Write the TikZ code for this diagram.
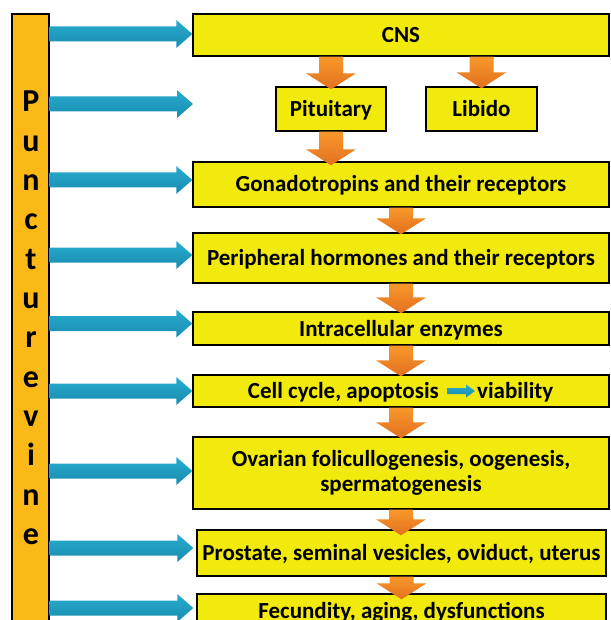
\documentclass[tikz,border=0pt]{standalone}
\usepackage{fontspec}
\setmainfont{Carlito}
\usetikzlibrary{calc}
\definecolor{boxyellow}{RGB}{242,234,12}
\definecolor{barorange}{RGB}{250,185,22}
\definecolor{bluetop}{RGB}{40,172,206}
\definecolor{bluebot}{RGB}{24,140,176}
\definecolor{orangetop}{RGB}{248,152,42}
\definecolor{orangebot}{RGB}{226,112,32}
\begin{document}
\begin{tikzpicture}[x=1pt,y=-1pt,
  box/.style={draw=black, line width=1.4pt, fill=boxyellow, inner sep=0pt, align=center,
    font=\fontsize{23}{25}\selectfont\bfseries},
  capline/.style={text height=15pt, text depth=0pt},
  plain/.style={inner sep=0pt, font=\fontsize{23}{25}\selectfont\bfseries, text height=15pt, text depth=0pt},
  bar/.style={draw=black, line width=1.4pt, fill=barorange, minimum width=37pt, minimum height=626pt, inner sep=0pt},
  barletter/.style={inner sep=0pt, font=\fontsize{32}{34}\selectfont\bfseries},
  bluearrow/.style={top color=bluetop, bottom color=bluebot, draw=none,
    to path={let \p1=(\tikztostart), \p2=(\tikztotarget) in
      (\x1,\y1+#1+7.5pt) -- (\x2-16pt,\y1+#1+7.5pt) -- (\x2-16pt,\y1+#1+14pt) -- (\x2,\y1+#1)
      -- (\x2-16pt,\y1+#1-14pt) -- (\x2-16pt,\y1+#1-7.5pt) -- (\x1,\y1+#1-7.5pt) -- cycle}},
  bluearrow/.default=0pt,
  smallarrow/.style={top color=bluetop, bottom color=bluebot, draw=none,
    to path={let \p1=(\tikztostart), \p2=(\tikztotarget) in
      (\x1,\y1+3pt) -- (\x2-9pt,\y1+3pt) -- (\x2-9pt,\y1+6.5pt) -- (\x2,\y1)
      -- (\x2-9pt,\y1-6.5pt) -- (\x2-9pt,\y1-3pt) -- (\x1,\y1-3pt) -- cycle}},
  orangearrow/.style={top color=orangetop, bottom color=orangebot, draw=none,
    to path={let \p1=(\tikztostart), \p2=(\tikztotarget) in
      (\x1-12pt,\y1) -- (\x1+12pt,\y1) -- (\x1+12pt,\y2+16pt) -- (\x1+25pt,\y2+16pt) -- (\x1,\y2)
      -- (\x1-25pt,\y2+16pt) -- (\x1-12pt,\y2+16pt) -- cycle}}
]
\useasboundingbox (0,0) rectangle (610,620);
\fill[white] (0,0) rectangle (610,620);

% left bar
\node[bar] (bar) at (30.5,327) {};
\foreach \l [count=\i from 0] in {P,u,n,c,t,u,r,e,v,i,n,e}
  \node[barletter, anchor=base] (L\i) at (31,112+39.3*\i) {\l};

% boxes
\node[box, capline, minimum width=416pt, minimum height=42pt] (cns) at (401,35) {CNS};
\node[box, capline, minimum width=110pt, minimum height=44pt] (pit) at (331,109) {Pituitary};
\node[box, capline, minimum width=111pt, minimum height=44pt] (lib) at (481.5,109) {Libido};
\node[box, capline, minimum width=416pt, minimum height=45pt] (gon) at (401,184.5) {Gonadotropins and their receptors};
\node[box, capline, minimum width=416pt, minimum height=50pt] (per) at (401,258) {Peripheral hormones and their receptors};
\node[box, capline, minimum width=416pt, minimum height=33pt] (intra) at (401,328.5) {Intracellular enzymes};
\node[box, minimum width=416pt, minimum height=32pt] (cell) at (401,391) {};
\node[plain, anchor=east] (cellA) at (439,391) {Cell cycle, apoptosis};
\node[plain, anchor=west] (cellB) at (477,391) {viability};
\node[box, minimum width=416pt, minimum height=72pt] (ova) at (401,473) {Ovarian folicullogenesis, oogenesis,\\spermatogenesis};
\node[box, capline, minimum width=409pt, minimum height=46pt] (pro) at (401.5,553) {Prostate, seminal vesicles, oviduct, uterus};
\node[box, capline, minimum width=409pt, minimum height=34pt] (fec) at (401.5,611) {Fecundity, aging, dysfunctions};

% small arrow inside cell box
\shade[smallarrow] ([xshift=8pt]cellA.east) to ([xshift=-2pt]cellB.west);

% blue arrows from bar
\coordinate (pend) at (193,104);
\shade[bluearrow=1pt] (bar.east |- cns.west) to (cns.west);
\shade[bluearrow] (bar.east |- pend) to (pend);
\shade[bluearrow=4.5pt] (bar.east |- gon.west) to (gon.west);
\shade[bluearrow=3pt] (bar.east |- per.west) to (per.west);
\shade[bluearrow=5pt] (bar.east |- intra.west) to (intra.west);
\shade[bluearrow] (bar.east |- cell.west) to (cell.west);
\shade[bluearrow=2pt] (bar.east |- ova.west) to (ova.west);
\shade[bluearrow=5pt] (bar.east |- pro.west) to ([xshift=-3pt]pro.west);
\shade[bluearrow=3pt] (bar.east |- fec.west) to ([xshift=-3pt]fec.west);

% orange arrows
\shade[orangearrow] (cns.south -| pit.north) to ([yshift=-3pt]pit.north);
\shade[orangearrow] (cns.south -| lib.north) to ([yshift=-2pt]lib.north);
\shade[orangearrow] (pit.south) to ([yshift=-4pt]pit.south |- gon.north);
\shade[orangearrow] (gon.south) to ([yshift=-2pt]per.north);
\shade[orangearrow] (per.south) to ([yshift=-2pt]intra.north);
\shade[orangearrow] (intra.south) to ([yshift=-2pt]cell.north);
\shade[orangearrow] (cell.south) to ([yshift=-2pt]ova.north);
\shade[orangearrow] (ova.south) to ([yshift=-6pt]pro.north);
\shade[orangearrow] (pro.south) to ([yshift=-6pt]fec.north);
\end{tikzpicture}
\end{document}
